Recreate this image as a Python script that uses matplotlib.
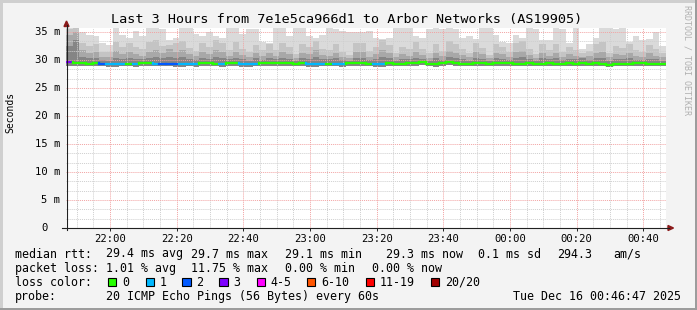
import numpy as np
import matplotlib.pyplot as plt
from matplotlib.patches import Rectangle, Polygon
from matplotlib.lines import Line2D
from matplotlib import transforms

W, H = 697, 310
mono = 'DejaVu Sans Mono'

# 2 minute samples, 21:46:47 .. 00:46:47 (x in minutes from start)
step_min = 2
first_tick = 13.22          # 22:00 in minutes from start
tick_labels = ['22:00', '22:20', '22:40', '23:00', '23:20', '23:40', '00:00', '00:20', '00:40']

median = [29.6, 29.4, 29.4, 29.3, 29.4, 29.3, 29.2, 29.2, 29.2, 29.3,
          29.2, 29.4, 29.4, 29.3, 29.3, 29.3, 29.2, 29.2, 29.2, 29.2,
          29.4, 29.4, 29.3, 29.2, 29.4, 29.4, 29.2, 29.2, 29.3, 29.4,
          29.5, 29.4, 29.4, 29.4, 29.3, 29.4, 29.2, 29.2, 29.2, 29.3,
          29.3, 29.2, 29.4, 29.4, 29.4, 29.3, 29.2, 29.2, 29.4, 29.3,
          29.3, 29.4, 29.4, 29.7, 29.3, 29.2, 29.4, 29.6, 29.4, 29.3,
          29.3, 29.4, 29.4, 29.3, 29.4, 29.5, 29.4, 29.3, 29.3, 29.4,
          29.3, 29.3, 29.4, 29.3, 29.3, 29.4, 29.3, 29.4, 29.3, 29.4,
          29.3, 29.1, 29.3, 29.3, 29.3, 29.4, 29.4, 29.3, 29.3, 29.3]

loss = [3, 0, 0, 0, 0, 2, 1, 1, 1, 0,
        1, 0, 0, 1, 2, 2, 2, 1, 1, 1,
        0, 0, 0, 1, 0, 0, 1, 1, 1, 0,
        0, 0, 0, 0, 0, 0, 1, 1, 1, 0,
        1, 1, 0, 0, 0, 0, 1, 1, 0, 0,
        0, 0, 0, 0, 0, 0, 0, 0, 0, 0,
        0, 0, 0, 0, 0, 0, 0, 0, 0, 0,
        0, 0, 0, 0, 0, 0, 0, 0, 0, 0,
        0, 0, 0, 0, 0, 0, 0, 0, 0, 0]

smoke_min = [29.0, 28.9, 28.9, 28.9, 29.0, 28.9, 28.8, 28.8, 28.9, 28.9,
             28.8, 28.9, 29.0, 28.9, 28.9, 28.9, 28.8, 28.8, 28.9, 28.8,
             29.0, 28.9, 28.9, 28.8, 29.0, 28.9, 28.8, 28.8, 28.9, 29.0,
             29.0, 28.9, 29.0, 28.9, 28.9, 29.0, 28.8, 28.8, 28.9, 28.9,
             28.9, 28.8, 29.0, 28.9, 29.0, 28.9, 28.8, 28.8, 29.0, 28.9,
             28.9, 29.0, 28.9, 29.1, 28.9, 28.8, 29.0, 29.1, 29.0, 28.9,
             28.9, 29.0, 29.0, 28.9, 29.0, 29.0, 28.9, 28.9, 28.9, 29.0,
             28.9, 28.9, 29.0, 28.9, 28.9, 29.0, 28.9, 29.0, 28.9, 29.0,
             28.9, 28.7, 28.9, 28.9, 28.9, 29.0, 29.0, 28.9, 28.9, 28.9]

smoke_q60 = [32.5, 33.5, 30.6, 30.3, 30.4, 30.0, 29.9, 30.4, 30.2, 30.4,
             30.2, 30.1, 30.4, 30.6, 30.3, 30.6, 30.4, 30.5, 30.1, 30.0,
             30.4, 30.2, 30.5, 30.4, 30.1, 30.4, 30.1, 29.9, 30.3, 30.0,
             30.3, 30.1, 30.4, 30.2, 29.9, 30.3, 30.1, 30.5, 30.1, 30.1,
             30.3, 30.0, 29.8, 30.4, 30.4, 30.0, 30.2, 30.5, 30.3, 29.9,
             30.2, 30.1, 30.4, 30.1, 29.9, 30.3, 30.0, 30.5, 30.3, 30.1,
             29.9, 30.4, 30.2, 29.8, 30.3, 30.2, 30.0, 30.4, 30.5, 30.1,
             29.9, 30.3, 30.1, 30.3, 30.0, 30.2, 30.1, 30.4, 30.0, 30.3,
             30.4, 29.9, 30.2, 30.1, 30.3, 30.0, 30.0, 30.2, 30.1, 29.9]

smoke_q75 = [34.5, 35.0, 31.8, 31.2, 31.4, 30.6, 30.5, 31.6, 31.0, 31.4,
             31.1, 30.8, 31.5, 31.8, 31.2, 31.9, 31.5, 31.7, 31.0, 30.7,
             31.4, 31.0, 31.8, 31.4, 30.8, 31.5, 30.9, 30.5, 31.2, 30.7,
             31.3, 30.8, 31.4, 31.0, 30.4, 31.3, 31.0, 31.7, 30.9, 30.8,
             31.3, 30.6, 30.3, 31.4, 31.5, 30.6, 31.0, 31.8, 31.2, 30.5,
             31.1, 30.8, 31.5, 30.9, 30.4, 31.3, 30.7, 31.6, 31.3, 30.9,
             30.5, 31.4, 31.0, 30.3, 31.3, 31.0, 30.6, 31.5, 31.6, 30.9,
             30.4, 31.3, 30.8, 31.3, 30.6, 31.1, 30.8, 30.6, 30.7, 31.3,
             31.5, 30.5, 31.1, 30.9, 31.3, 30.7, 30.6, 31.2, 30.8, 30.5]

smoke_q90 = [35.5, 35.8, 33.0, 32.5, 32.8, 31.5, 31.4, 33.2, 32.3, 33.0,
             32.4, 32.0, 33.2, 33.6, 32.5, 32.6, 33.0, 33.4, 32.2, 31.6,
             33.0, 32.4, 33.5, 33.0, 31.8, 33.2, 32.0, 31.4, 32.6, 31.7,
             32.8, 31.8, 33.0, 32.3, 31.0, 32.9, 32.3, 33.4, 32.0, 31.8,
             32.8, 31.5, 30.9, 33.0, 33.1, 31.6, 32.3, 33.5, 32.6, 31.3,
             32.4, 31.9, 33.2, 32.0, 31.2, 32.8, 31.6, 33.4, 32.9, 32.0,
             31.3, 33.0, 32.2, 30.9, 32.9, 32.3, 31.5, 33.1, 33.4, 32.0,
             31.1, 32.9, 31.8, 32.8, 31.4, 32.4, 31.8, 31.2, 31.6, 32.8,
             33.2, 31.3, 32.5, 32.1, 32.9, 31.7, 31.5, 32.7, 31.9, 31.3]

smoke_max = [36.3, 36.3, 35.0, 34.4, 34.2, 33.0, 32.6, 36.2, 34.4, 34.0,
             35.2, 34.2, 35.8, 36.0, 35.5, 33.5, 34.0, 36.0, 35.8, 34.6,
             34.2, 35.0, 34.2, 34.0, 36.0, 35.8, 34.6, 35.6, 35.5, 33.2,
             33.0, 35.8, 36.0, 34.2, 35.8, 36.0, 34.2, 34.0, 34.5, 35.8,
             35.6, 35.2, 35.0, 35.0, 35.0, 35.2, 34.0, 33.8, 34.0, 36.0,
             35.8, 36.0, 34.2, 34.0, 35.6, 35.8, 35.5, 36.0, 35.6, 34.0,
             34.2, 33.8, 35.8, 36.0, 34.5, 33.2, 33.0, 34.5, 34.0, 35.8,
             35.5, 33.5, 33.5, 36.0, 35.5, 33.0, 35.8, 32.0, 32.8, 34.0,
             36.0, 35.8, 35.6, 35.8, 33.2, 34.2, 33.6, 33.8, 35.0, 32.5]

loss_colors = ['#26ff00', '#00b8ff', '#0059ff', '#7e00ff', '#ff00ff', '#ff5500', '#ff0000', '#a00000']
loss_names = ['0', '1', '2', '3', '4-5', '6-10', '11-19', '20/20']
yticks = [0, 5, 10, 15, 20, 25, 30, 35]


def fx(x):
    return x / W


def fy(y):
    return 1 - y / H


fig = plt.figure(figsize=(W / 100, H / 100), dpi=100, facecolor='#f3f3f3')
ax = fig.add_axes([fx(66), fy(228), 600 / W, 200 / H])
ax.set_facecolor('white')

n = len(median)
edges = np.arange(n + 1) * step_min


def ext(a):
    return np.append(a, a[-1])


# smoke, lightest first
for top, col in [(smoke_max, '#dadada'), (smoke_q90, '#c4c4c4'),
                 (smoke_q75, '#a8a8a8'), (smoke_q60, '#858585')]:
    ax.fill_between(edges, ext(smoke_min), ext(top), step='post', color=col, lw=0, zorder=1)

# median line coloured by loss
for i in range(n):
    c = loss_colors[loss[i]]
    ax.plot([edges[i], edges[i + 1]], [median[i], median[i]], color=c, lw=1.6,
            solid_capstyle='projecting', zorder=3)
    if i + 1 < n and median[i + 1] != median[i]:
        ax.plot([edges[i + 1], edges[i + 1]], [median[i], median[i + 1]],
                color=loss_colors[loss[i + 1]], lw=1.6, zorder=3)

ax.set_xlim(0, n * step_min)
ax.set_ylim(0, 200 / 5.6)

major_x = [first_tick + 20 * k for k in range(len(tick_labels))]
minor_x = [first_tick - 10 + 5 * k for k in range(37)]
ax.set_xticks(major_x, tick_labels)
ax.set_xticks([m for m in minor_x if 0 < m < n * step_min], minor=True)
ax.set_yticks(yticks, [''] * len(yticks))
ax.set_yticks([k * 5 / 3 for k in range(22)], minor=True)

ax.set_axisbelow(False)
ax.grid(which='minor', color='#cfcfcf', linestyle=(0, (1, 1)), linewidth=0.7)
ax.grid(which='major', color='#f2a3a3', linestyle=(0, (1, 1)), linewidth=0.7)

for s in ax.spines:
    ax.spines[s].set_visible(False)

ax.tick_params(axis='x', which='major', length=2, width=0.7, color='#202020',
               direction='out', pad=2.2, labelsize=7.6)
ax.tick_params(axis='x', which='minor', length=0)
ax.tick_params(axis='y', which='both', length=0)
for lab in ax.get_xticklabels():
    lab.set_family(mono)

# y tick labels
ytrans = ax.get_yaxis_transform()
for v in yticks:
    if v:
        t = transforms.offset_copy(ytrans, fig=fig, x=-5.5, y=0, units='dots')
        ax.text(0, v, f'{v} m', transform=t, ha='right', va='center',
                fontsize=7.6, family=mono)
    else:
        t = transforms.offset_copy(ytrans, fig=fig, x=-18.2, y=0, units='dots')
        ax.text(0, v, '0', transform=t, ha='right', va='center',
                fontsize=7.6, family=mono)

# axes with arrows
arrow_col = '#8b1a1a'
fig.add_artist(Line2D([fx(66.5), fx(66.5)], [fy(230), fy(25)], color='#202020', lw=0.8))
fig.add_artist(Line2D([fx(62), fx(669)], [fy(228), fy(228)], color='#202020', lw=0.8))
fig.add_artist(Polygon([[fx(64), fy(26.5)], [fx(69), fy(26.5)], [fx(66.5), fy(21)]],
                       closed=True, color=arrow_col, transform=fig.transFigure))
fig.add_artist(Polygon([[fx(668), fy(225.5)], [fx(668), fy(230.5)], [fx(673.5), fy(228)]],
                       closed=True, color=arrow_col, transform=fig.transFigure))

# title and side texts
fig.text(fx(347), fy(19), 'Last 3 Hours from 7e1e5ca966d1 to Arbor Networks (AS19905)',
         ha='center', va='center', fontsize=9.7, family=mono)
fig.text(fx(10.3), fy(112.5), 'Seconds', rotation=90, ha='center', va='center',
         fontsize=7, family=mono)
fig.text(fx(687), fy(60), 'RRDTOOL / TOBI OETIKER', rotation=270, ha='center', va='center',
         fontsize=6, family=mono, color='#b0b0b0')

# legend
leg = 8.4
rows = [
    (254, [(16, 'median rtt:'), (107.3, '29.4 ms avg'), (191.7, '29.7 ms max'),
           (286, '29.1 ms min'), (386.7, '29.3 ms now'), (479, '0.1 ms sd'),
           (558, '294.3'), (614, 'am/s')]),
    (268.5, [(16, 'packet loss:'), (107.3, '1.01 % avg'), (191.7, '11.75 % max'),
             (286, '0.00 % min'), (372.3, '0.00 % now')]),
    (282, [(16, 'loss color:')]),
    (296.5, [(16, 'probe:'), (107.3, '20 ICMP Echo Pings (56 Bytes) every 60s')]),
]
for y, pieces in rows:
    for x, s in pieces:
        fig.text(fx(x - 0.8), fy(y), s, ha='left', va='center', fontsize=leg, family=mono)
fig.text(fx(681), fy(296.5), 'Tue Dec 16 00:46:47 2025', ha='right', va='center',
         fontsize=leg, family=mono)

box_x = [108.3, 145.7, 182.3, 219.3, 256.7, 306.7, 365.7, 430.7]
lab_x = [123.3, 160, 196.7, 234.3, 271.7, 321.7, 380, 445.7]
for bx, lx, c, name in zip(box_x, lab_x, loss_colors, loss_names):
    fig.add_artist(Rectangle((fx(bx), fy(286.3)), 8.2 / W, 8.4 / H, facecolor=c,
                             edgecolor='black', lw=0.8, transform=fig.transFigure))
    fig.text(fx(lx - 0.8), fy(282), name, ha='left', va='center', fontsize=leg, family=mono)

# 3d frame
fig.add_artist(Rectangle((0, fy(2.5)), 1, 2.5 / H, color='#cfcfcf', lw=0, transform=fig.transFigure))
fig.add_artist(Rectangle((0, 0), 2.5 / W, 1, color='#cfcfcf', lw=0, transform=fig.transFigure))
fig.add_artist(Rectangle((0, 0), 1, 2.5 / H, color='#9c9c9c', lw=0, transform=fig.transFigure))
fig.add_artist(Rectangle((fx(694.5), 0), 2.5 / W, 1, color='#9c9c9c', lw=0, transform=fig.transFigure))

fig.savefig('out.png', dpi=100, facecolor=fig.get_facecolor())
